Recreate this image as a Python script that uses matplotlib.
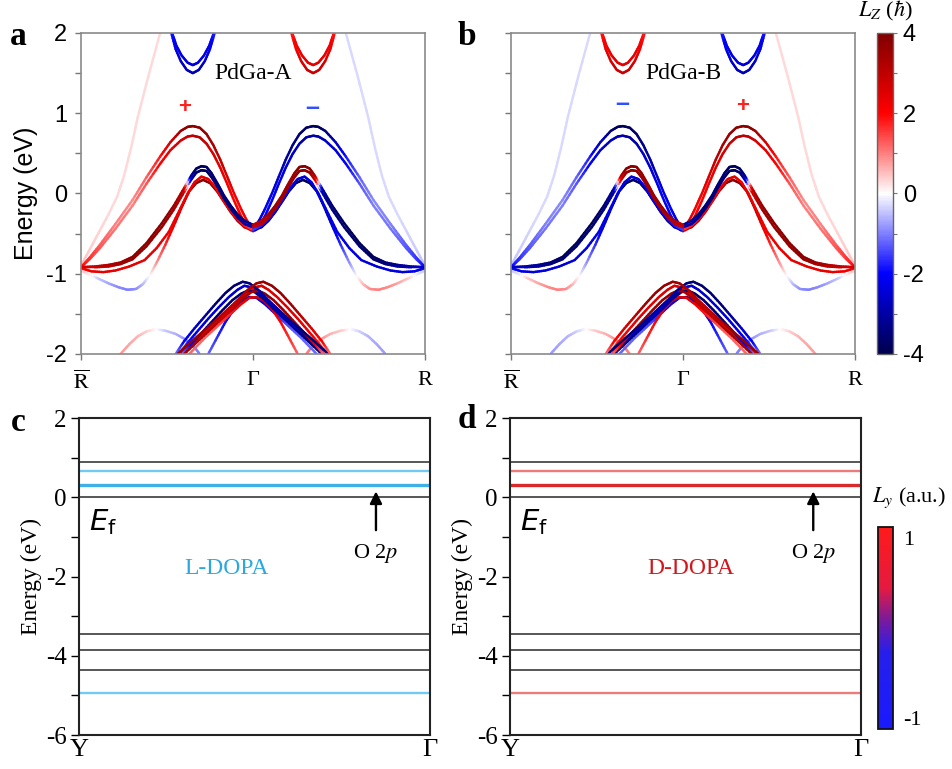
import numpy as np
import matplotlib
matplotlib.use('Agg')
import matplotlib.pyplot as plt
from matplotlib.collections import LineCollection
from matplotlib.colors import Normalize, LinearSegmentedColormap
from matplotlib.cm import ScalarMappable
from matplotlib.ticker import FixedLocator

plt.rcParams['mathtext.fontset'] = 'stix'
plt.rcParams['axes.unicode_minus'] = False
SERIF = 'Liberation Serif'
SANS = 'Liberation Sans'

# ---------------- data ----------------
# k path (R-bar = -1, Gamma = 0, R = +1)
kpath_pos = [-1, 0, 1]
kpath_labels = [r'$\overline{\mathrm{R}}$', 'Γ', 'R']
energy_ticks_top = [-2, -1, 0, 1, 2]
lz_ticks = [-4, -2, 0, 2, 4]

# band points of PdGa-A for k <= 0 side: (k, E [eV], Lz [hbar]);
# the other half follows E(k)=E(-k), Lz(k)=-Lz(-k) as seen in the figure
band_S = [(-1.00, -0.90, 0.5), (-0.95, -0.70, 0.4), (-0.90, -0.50, 0.35), (-0.84, -0.26, 0.3),
          (-0.79, -0.04, 0.3), (-0.75, 0.22, 0.3), (-0.71, 0.56, 0.3), (-0.67, 0.95, 0.3),
          (-0.61, 1.45, 0.3), (-0.54, 2.00, 0.3)]
band_C1 = [(-0.475, 2.00, -1.8), (-0.45, 1.80, -2.2), (-0.42, 1.65, -2.5), (-0.385, 1.54, -2.8),
           (-0.35, 1.50, -2.8), (-0.315, 1.54, -2.8), (-0.28, 1.65, -2.5), (-0.25, 1.80, -2.2),
           (-0.223, 2.00, -1.8)]
band_C2 = [(-0.47, 2.00, -1.8), (-0.445, 1.84, -2.2), (-0.415, 1.72, -2.3), (-0.38, 1.63, -2.4),
           (-0.35, 1.60, -2.4), (-0.32, 1.63, -2.4), (-0.285, 1.72, -2.3), (-0.255, 1.84, -2.2),
           (-0.228, 2.00, -1.8)]
band_U1 = [(-1.00, -0.92, 2.0), (-0.95, -0.80, 1.6), (-0.89, -0.64, 1.3), (-0.80, -0.38, 1.0),
           (-0.70, -0.08, 0.9), (-0.62, 0.20, 1.2), (-0.54, 0.46, 1.8), (-0.48, 0.64, 2.6),
           (-0.42, 0.78, 3.4), (-0.38, 0.83, 3.8), (-0.35, 0.84, 3.8), (-0.31, 0.82, 3.8),
           (-0.27, 0.74, 3.6), (-0.23, 0.60, 3.3), (-0.19, 0.42, 3.0), (-0.15, 0.21, 2.6),
           (-0.11, 0.00, 2.2), (-0.07, -0.19, 2.0), (-0.04, -0.32, 2.2), (-0.02, -0.39, 2.4),
           (0.00, -0.41, 2.4)]
band_U2 = [(-1.00, -0.92, 1.6), (-0.95, -0.82, 1.5), (-0.89, -0.68, 1.3), (-0.80, -0.44, 1.1),
           (-0.70, -0.15, 1.0), (-0.62, 0.12, 1.3), (-0.54, 0.37, 2.0), (-0.48, 0.54, 2.4),
           (-0.42, 0.66, 2.6), (-0.38, 0.71, 2.8), (-0.35, 0.72, 3.0), (-0.31, 0.70, 3.0),
           (-0.27, 0.62, 2.8), (-0.23, 0.49, 2.6), (-0.19, 0.32, 2.4), (-0.15, 0.12, 2.2),
           (-0.11, -0.09, 2.0), (-0.07, -0.28, 2.0), (-0.04, -0.39, 2.0), (-0.02, -0.45, 1.8),
           (0.00, -0.47, 1.5)]
band_L1 = [(-1.00, -0.92, 2.5), (-0.92, -0.91, 2.8), (-0.84, -0.89, 3.2), (-0.77, -0.86, 3.5),
           (-0.70, -0.79, 3.8), (-0.62, -0.62, 3.8), (-0.53, -0.37, 3.8), (-0.46, -0.15, 3.6),
           (-0.40, 0.07, 3.0), (-0.36, 0.22, -3.0), (-0.33, 0.31, -3.8), (-0.30, 0.34, -3.8),
           (-0.27, 0.33, -3.8), (-0.24, 0.25, -3.6), (-0.20, 0.10, -3.5), (-0.17, -0.02, -3.5),
           (-0.13, -0.15, -3.5), (-0.09, -0.26, -3.5), (-0.05, -0.34, -3.2), (0.00, -0.39, -3.0)]
band_L2 = [(-1.00, -0.92, 2.2), (-0.92, -0.92, 2.6), (-0.84, -0.91, 3.0), (-0.77, -0.88, 3.4),
           (-0.70, -0.82, 3.6), (-0.62, -0.66, 3.6), (-0.53, -0.42, 3.6), (-0.46, -0.20, 3.4),
           (-0.40, 0.02, 2.8), (-0.36, 0.17, -2.5), (-0.33, 0.26, -3.5), (-0.30, 0.29, -3.8),
           (-0.27, 0.28, -3.8), (-0.24, 0.20, -3.6), (-0.20, 0.06, -3.5), (-0.17, -0.06, -3.5),
           (-0.13, -0.19, -3.4), (-0.09, -0.30, -3.2), (-0.05, -0.38, -3.0), (0.00, -0.42, -2.8)]
band_L3 = [(-1.00, -0.93, 1.8), (-0.94, -0.97, 2.2), (-0.87, -0.98, 2.4), (-0.80, -0.96, 2.4),
           (-0.72, -0.91, 2.4), (-0.63, -0.83, 2.4), (-0.56, -0.68, 2.3), (-0.49, -0.48, 2.2),
           (-0.43, -0.22, 2.2), (-0.38, 0.00, 2.2), (-0.34, 0.14, 2.2), (-0.30, 0.21, 2.4),
           (-0.26, 0.18, 2.4), (-0.22, 0.08, 2.2), (-0.18, -0.06, 2.0), (-0.14, -0.19, 2.0),
           (-0.10, -0.30, 2.0), (-0.05, -0.40, 1.8), (0.00, -0.45, 1.5)]
band_L4 = [(-1.00, -0.96, 0.5), (-0.95, -1.01, 0.2), (-0.90, -1.06, -0.4), (-0.84, -1.12, -0.7),
           (-0.78, -1.17, -0.9), (-0.73, -1.20, -1.0), (-0.68, -1.19, -0.9), (-0.64, -1.13, -0.6),
           (-0.60, -1.02, 0.0), (-0.56, -0.86, 0.8), (-0.51, -0.64, 1.6), (-0.46, -0.40, 2.4),
           (-0.41, -0.15, 3.2), (-0.37, 0.03, 3.6), (-0.33, 0.13, 3.8), (-0.29, 0.17, 3.8),
           (-0.25, 0.13, 3.8), (-0.21, 0.03, 3.6), (-0.17, -0.10, 3.5), (-0.13, -0.23, 3.5),
           (-0.09, -0.34, 3.4), (-0.05, -0.42, 3.0), (0.00, -0.46, 2.5)]
band_F = [(-0.77, -2.00, 0.8), (-0.72, -1.88, 0.7), (-0.67, -1.78, 0.6), (-0.62, -1.72, 0.4),
          (-0.57, -1.69, 0.1), (-0.51, -1.71, -0.4), (-0.45, -1.75, -0.6), (-0.40, -1.81, -0.8),
          (-0.35, -1.89, -1.0), (-0.31, -2.00, -1.0)]
band_H1 = [(-0.45, -2.00, -1.0), (-0.40, -1.84, -2.0), (-0.34, -1.68, -2.5), (-0.28, -1.53, -3.0),
           (-0.22, -1.38, -3.5), (-0.16, -1.24, -3.6), (-0.11, -1.15, -3.6), (-0.06, -1.10, -3.6),
           (-0.02, -1.12, -3.4), (0.03, -1.20, -3.2), (0.09, -1.33, -3.0), (0.15, -1.45, -3.0),
           (0.21, -1.57, -3.2), (0.28, -1.70, -3.5), (0.35, -1.83, -3.6), (0.44, -2.00, -3.6)]
band_H2 = [(-0.43, -2.00, -1.0), (-0.38, -1.86, -1.8), (-0.32, -1.71, -2.2), (-0.26, -1.56, -2.4),
           (-0.20, -1.42, -2.5), (-0.14, -1.29, -2.5), (-0.09, -1.20, -2.5), (-0.05, -1.15, -2.5),
           (-0.01, -1.17, -2.4), (0.04, -1.25, -2.3), (0.10, -1.38, -2.2), (0.16, -1.50, -2.2),
           (0.22, -1.62, -2.3), (0.29, -1.75, -2.4), (0.36, -1.88, -2.5), (0.42, -2.00, -2.5)]
band_H3 = [(-0.41, -2.00, -1.0), (-0.36, -1.88, -2.0), (-0.30, -1.74, -3.0), (-0.24, -1.60, -3.4),
           (-0.18, -1.46, -3.6), (-0.12, -1.33, -3.6), (-0.07, -1.25, -3.6), (-0.03, -1.21, -3.5),
           (0.01, -1.23, -3.4), (0.06, -1.31, -3.2), (0.12, -1.44, -3.0), (0.18, -1.56, -3.0),
           (0.24, -1.68, -3.2), (0.31, -1.82, -3.4), (0.40, -2.00, -3.5)]
band_H4 = [(-0.26, -2.00, -1.2), (-0.21, -1.80, -1.6), (-0.16, -1.60, -2.0), (-0.11, -1.44, -2.4),
           (-0.06, -1.33, -2.6), (-0.02, -1.29, -2.6), (0.02, -1.30, -2.4), (0.07, -1.38, -2.2),
           (0.13, -1.50, -1.8), (0.20, -1.64, -1.4), (0.28, -1.80, -1.2), (0.37, -2.00, -1.2)]

bands = [band_S, band_F, band_C2, band_C1, band_U2, band_U1, band_L4, band_L3,
         band_L2, band_L1, band_H4, band_H2, band_H3, band_H1]

# DOPA on PdGa: flat levels along Y-Gamma
path_cd_labels = ['Y', 'Γ']
energy_ticks_bot = [-6, -4, -2, 0, 2]
levels_substrate = [0.88, 0.0, -3.45, -3.86, -4.36]
levels_molecule = [0.67, 0.30, -4.93]
colors_L = ['#72caf2', '#3fb0e6', '#72caf2']
colors_D = ['#ec7b7b', '#d82a2a', '#ec7b7b']
ly_ticks = [-1, 1]

# ---------------- styles ----------------
norm_lz = Normalize(-4, 4)
cmap_lz = plt.get_cmap('seismic')
cmap_ly = LinearSegmentedColormap.from_list(
    'ly', [(0.0, (0.10, 0.10, 1.0)), (0.38, (0.15, 0.12, 0.92)), (0.55, (0.50, 0.10, 0.60)),
           (0.70, (0.90, 0.10, 0.25)), (1.0, (1.0, 0.10, 0.10))])
norm_ly = Normalize(-1.12, 1.12)

fig = plt.figure(figsize=(9.52, 7.69), dpi=100)
axA = fig.add_axes([0.0851, 0.5397, 0.3613, 0.4174])
axB = fig.add_axes([0.5368, 0.5397, 0.3613, 0.4174])
caxT = fig.add_axes([0.9212, 0.5397, 0.0168, 0.4174])
axC = fig.add_axes([0.0830, 0.0442, 0.3687, 0.4122])
axD = fig.add_axes([0.5357, 0.0442, 0.3687, 0.4122])
caxB = fig.add_axes([0.9223, 0.0520, 0.0158, 0.2627])


def draw_band(ax, pts, ksign, lsign):
    k = ksign * np.array([p[0] for p in pts])
    E = np.array([p[1] for p in pts])
    L = lsign * np.array([p[2] for p in pts])
    segs, vals = [], []
    n = 6
    for i in range(len(k) - 1):
        for j in range(n):
            t0, t1 = j / n, (j + 1) / n
            segs.append([(k[i] + (k[i + 1] - k[i]) * t0, E[i] + (E[i + 1] - E[i]) * t0),
                         (k[i] + (k[i + 1] - k[i]) * t1, E[i] + (E[i + 1] - E[i]) * t1)])
            vals.append(L[i] + (L[i + 1] - L[i]) * (t0 + t1) / 2)
    lc = LineCollection(segs, cmap=cmap_lz, norm=norm_lz, linewidths=1.75, capstyle='round')
    lc.set_array(np.array(vals))
    ax.add_collection(lc)


for b in bands:
    draw_band(axA, b, 1, 1)
    draw_band(axA, b, -1, -1)
    draw_band(axB, b, -1, 1)
    draw_band(axB, b, 1, -1)

for ax in (axA, axB):
    ax.set_xlim(-1, 1)
    ax.set_ylim(-2, 2)
    ax.set_xticks(kpath_pos)
    ax.set_xticklabels(kpath_labels, fontfamily=SERIF, fontsize=16)
    ax.set_yticks(energy_ticks_top)
    ax.yaxis.set_minor_locator(FixedLocator([-1.5, -0.5, 0.5, 1.5]))
    ax.tick_params(axis='both', which='major', direction='out', length=4, width=1.0,
                   color='#777777')
    ax.tick_params(axis='y', which='minor', direction='out', length=4, width=1.0,
                   color='#777777')
    ax.tick_params(axis='x', pad=8)
    for s in ax.spines.values():
        s.set_color('#8a8a8a')
        s.set_linewidth(1.2)

axA.set_yticklabels([str(v) for v in energy_ticks_top], fontfamily=SANS, fontsize=17)
axA.tick_params(axis='y', pad=6)
axB.set_yticklabels([])
axA.set_ylabel('Energy (eV)', fontfamily=SANS, fontsize=18, labelpad=6)

axA.text(0.0, 1.5, 'PdGa-A', fontfamily=SERIF, fontsize=17, ha='center', va='center')
axB.text(0.0, 1.5, 'PdGa-B', fontfamily=SERIF, fontsize=17, ha='center', va='center')
axA.text(-0.40, 1.07, '+', color='#ff2020', fontfamily=SANS, fontsize=16, fontweight='bold',
         ha='center', va='center')
axA.text(0.345, 1.06, '–', color='#3050ff', fontfamily=SANS, fontsize=18, fontweight='bold',
         ha='center', va='center')
axB.text(-0.352, 1.12, '–', color='#3050ff', fontfamily=SANS, fontsize=18, fontweight='bold',
         ha='center', va='center')
axB.text(0.345, 1.08, '+', color='#ff2020', fontfamily=SANS, fontsize=16, fontweight='bold',
         ha='center', va='center')

cbT = fig.colorbar(ScalarMappable(norm=norm_lz, cmap=cmap_lz), cax=caxT)
cbT.set_ticks(lz_ticks)
cbT.set_ticklabels([str(v) for v in lz_ticks])
cbT.ax.yaxis.set_minor_locator(FixedLocator([-3, -1, 1, 3]))
cbT.ax.tick_params(which='both', length=3, width=0.8, color='#777777', labelsize=17, pad=4)
for t in cbT.ax.get_yticklabels():
    t.set_fontfamily(SANS)
cbT.outline.set_edgecolor('#666666')
cbT.outline.set_linewidth(1.0)
fig.text(0.9296, 0.986, r'$L_Z$ ($\hbar$)', fontfamily=SERIF, fontsize=16, ha='center', va='center')

# ---- bottom panels ----
for ax, cols, name, namecol, arrx, namex in ((axC, colors_L, 'L-DOPA', '#2aa9e0', 0.846, 0.42),
                                             (axD, colors_D, 'D-DOPA', '#d4151c', 0.864, 0.515)):
    ax.set_xlim(0, 1)
    ax.set_ylim(-6, 2)
    for y in levels_substrate:
        ax.axhline(y, color='#3a3a3a', lw=1.2)
    for y, c, lw in zip(levels_molecule, cols, [1.7, 2.4, 1.7]):
        ax.axhline(y, color=c, lw=lw)
    ax.set_xticks([0, 1])
    ax.set_xticklabels(path_cd_labels, fontfamily=SERIF, fontsize=19)
    ax.tick_params(axis='x', length=0, pad=3)
    ax.set_yticks(energy_ticks_bot)
    ax.set_yticklabels([str(v) for v in energy_ticks_bot], fontfamily=SERIF, fontsize=18)
    ax.yaxis.set_minor_locator(FixedLocator([-5, -3, -1, 1]))
    ax.tick_params(axis='y', which='both', direction='out', length=6, width=1.0, pad=3)
    for s in ax.spines.values():
        s.set_color('#222222')
        s.set_linewidth(1.5)
    ax.set_ylabel('Energy (eV)', fontfamily=SERIF, fontsize=17, labelpad=3)
    ax.text(0.068, -0.62, r'$E_\mathrm{f}$', math_fontfamily='dejavusans', fontsize=21,
            ha='center', va='center')
    ax.text(namex, -1.79, name, color=namecol, fontfamily=SERIF, fontsize=17,
            ha='center', va='center')
    ax.annotate('', xy=(arrx, 0.22), xytext=(arrx, -0.90),
                arrowprops=dict(arrowstyle='-|>', color='k', lw=1.7, mutation_scale=18))
    ax.text(arrx, -1.42, r'O 2$p$', fontfamily=SERIF, fontsize=16, ha='center', va='center')

cbB = fig.colorbar(ScalarMappable(norm=norm_ly, cmap=cmap_ly), cax=caxB)
cbB.set_ticks(ly_ticks)
cbB.set_ticklabels([str(v) for v in ly_ticks])
cbB.ax.tick_params(length=0, labelsize=16, pad=7)
for t in cbB.ax.get_yticklabels():
    t.set_fontfamily(SERIF)
cbB.outline.set_edgecolor('#111111')
cbB.outline.set_linewidth(1.3)
fig.text(0.955, 0.3524, r'$L_y$ (a.u.)', fontfamily=SERIF, fontsize=16, ha='center', va='center')

# panel letters
for x, y, s in ((0.019, 0.953, 'a'), (0.4905, 0.953, 'b'), (0.019, 0.451, 'c'), (0.4905, 0.454, 'd')):
    fig.text(x, y, s, fontfamily=SERIF, fontweight='bold', fontsize=24, ha='center', va='center')

fig.savefig('out.png', dpi=100)
